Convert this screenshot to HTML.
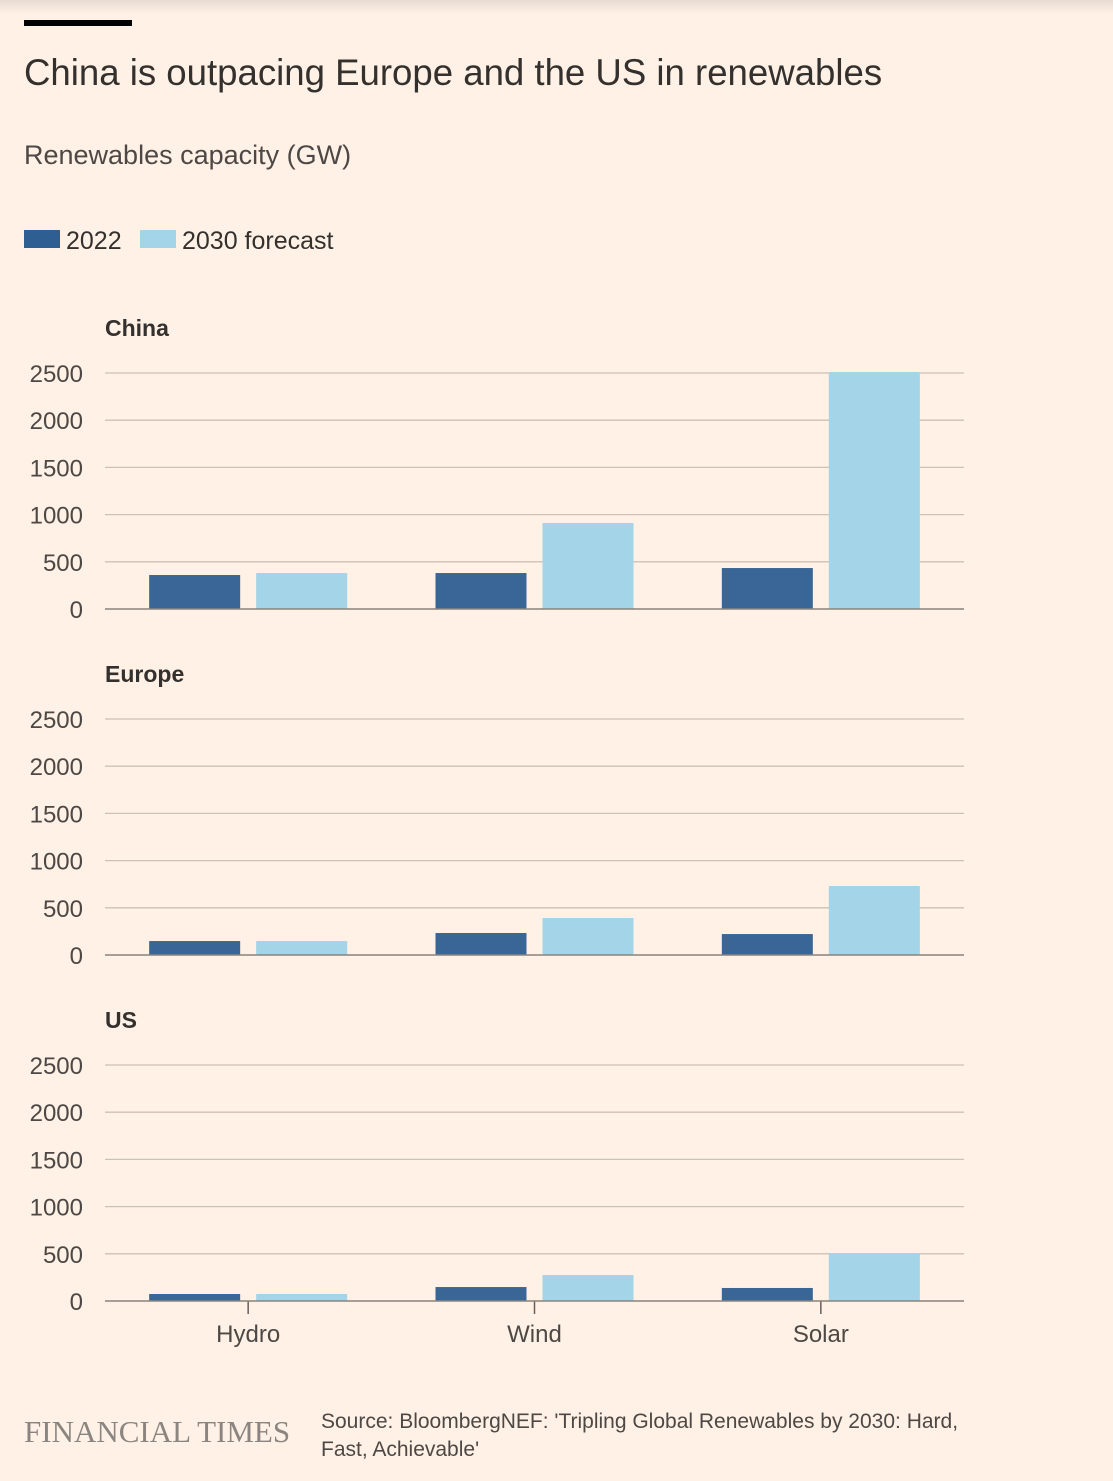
<!DOCTYPE html>
<html><head><meta charset="utf-8"><style>
html,body{margin:0;padding:0;background:#fff1e5;}
body{width:1113px;height:1481px;position:relative;overflow:hidden;font-family:"Liberation Sans",sans-serif;color:#33302e;}
svg{position:absolute;left:0;top:0;}
</style></head><body>
<svg id="chart" width="1113" height="1481" viewBox="0 0 1113 1481">
<defs><linearGradient id="sh" x1="0" y1="0" x2="0" y2="1"><stop offset="0" stop-color="#e6dcd2"/><stop offset="1" stop-color="#fff1e5"/></linearGradient></defs>
<rect x="0" y="0" width="1113" height="14" fill="url(#sh)"/>
<rect x="24" y="20" width="108" height="6" fill="#000"/>
<text x="24" y="85" font-size="36.6" fill="#33302e">China is outpacing Europe and the US in renewables</text>
<text x="24" y="164" font-size="27" fill="#4d4845">Renewables capacity (GW)</text>
<g>
<rect x="24" y="230" width="36" height="18" fill="#2f5e92"/>
<text x="66" y="249" font-size="25" fill="#33302e">2022</text>
<rect x="140" y="230" width="36" height="18" fill="#a3d4e7"/>
<text x="182" y="249" font-size="25" fill="#33302e">2030 forecast</text>
</g>
<g id="panels"></g>
<text x="24" y="1442" font-family="Liberation Serif,serif" font-size="31" fill="#8a8580">FINANCIAL TIMES</text>
<text font-size="21" fill="#4d4845"><tspan x="321" y="1428">Source: BloombergNEF: 'Tripling Global Renewables by 2030: Hard,</tspan><tspan x="321" y="1456">Fast, Achievable'</tspan></text>
</svg>
<script>
const categories = ["Hydro","Wind","Solar"];
const regions = ["China","Europe","US"];
const ticks = [0,500,1000,1500,2000,2500];
const china2022 = [360,381,434];
const china2030 = [381,911,2510];
const europe2022 = [148,233,222];
const europe2030 = [148,392,731];
const us2022 = [74,148,138];
const us2030 = [74,275,508];
const s2022 = [china2022,europe2022,us2022];
const s2030 = [china2030,europe2030,us2030];

const NS="http://www.w3.org/2000/svg";
const g=document.getElementById('panels');
const X0=105,X1=964,bandW=(X1-X0)/3,barW=91,gap=16;
const baseY=[609,955,1301],H=236,maxV=2500;
function mk(t,a){const e=document.createElementNS(NS,t);for(const k in a)e.setAttribute(k,a[k]);return e;}
regions.forEach((r,pi)=>{
  const y=v=>baseY[pi]-v/maxV*H;
  const title=mk('text',{x:105,y:baseY[pi]-273,'font-size':23,'font-weight':'bold',fill:'#33302e'});
  
  
  title.textContent=r;g.appendChild(title);
  ticks.forEach(t=>{
    const ln=mk('line',{x1:X0,x2:X1,y1:y(t),y2:y(t),stroke:'#ccc1b7','stroke-width':1.3});
    
    
    if(t!==0)g.appendChild(ln);
    const tl=mk('text',{x:83,y:y(t)+9,'text-anchor':'end','font-size':24,fill:'#4d4845'});
    
    
    tl.textContent=t;g.appendChild(tl);
  });
  categories.forEach((c,ci)=>{
    const cx=X0+bandW*(ci+0.5);
    const v1=s2022[pi][ci],v2=s2030[pi][ci];
    const b1=mk('rect',{x:cx-gap/2-barW,y:y(v1),width:barW,height:baseY[pi]-y(v1),fill:'#2f5e92',opacity:0.95});
    
    
    g.appendChild(b1);
    const b2=mk('rect',{x:cx+gap/2,y:y(v2),width:barW,height:baseY[pi]-y(v2),fill:'#a3d4e7'});
    
    
    g.appendChild(b2);
    if(pi===2){
      const tk=mk('line',{x1:cx,x2:cx,y1:baseY[pi],y2:baseY[pi]+13,stroke:'#66605c','stroke-width':1.5});
      
      
      g.appendChild(tk);
      const xl=mk('text',{x:cx,y:baseY[pi]+41,'text-anchor':'middle','font-size':24,fill:'#4d4845'});
      
      
      xl.textContent=c;g.appendChild(xl);
    }
  });
  const ax=mk('line',{x1:X0,x2:X1,y1:baseY[pi],y2:baseY[pi],stroke:'#8a837d','stroke-width':1.5});
  
  
  g.appendChild(ax);
});
</script>
</body></html>
